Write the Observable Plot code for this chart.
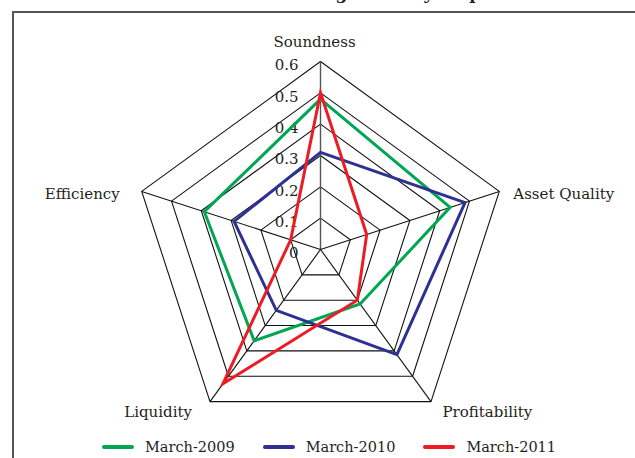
<!DOCTYPE html>
<html>
<head>
<meta charset="utf-8">
<script src="https://cdn.jsdelivr.net/npm/d3@7"></script>
<script src="https://cdn.jsdelivr.net/npm/@observablehq/plot@0.6"></script>
<style>
  html, body { margin: 0; padding: 0; background: #fff; }
  body { width: 635px; height: 458px; overflow: hidden; position: relative; font-family: "DejaVu Serif", serif; color: #231f20; }
  #title { position: absolute; top: -15px; left: 0; width: 635px; text-align: center; font: bold 17px/17px "DejaVu Serif", serif; color: #231f20; }
  #frame { position: absolute; left: 12px; top: 11px; width: 800px; height: 800px; border: 2px solid #555; box-sizing: border-box; }
  #chart { position: absolute; left: 0; top: 20px; }
  #legend { position: absolute; left: 102px; top: 437px; height: 20px; display: flex; align-items: center; font-size: 14.5px; }
  .item { display: flex; align-items: center; margin-right: 28px; }
  .sw { width: 32px; height: 4px; border-radius: 2px; margin-right: 11px; }
</style>
</head>
<body>
<div id="title">Chart 2.10: Banking Stability Map</div>
<div id="frame"></div>
<div id="chart"></div>
<div id="legend"></div>
<script>
// ---- data ----
const axes = ["Soundness", "Asset Quality", "Profitability", "Liquidity", "Efficiency"];
const ticks = [0, 0.1, 0.2, 0.3, 0.4, 0.5, 0.6];
const tickLabels = ["0", "0.1", "0.2", "0.3", "0.4", "0.5", "0.6"];
const seriesNames = ["March-2009", "March-2010", "March-2011"];
const march2009 = [0.48, 0.435, 0.215, 0.36, 0.39];
const march2010 = [0.31, 0.485, 0.415, 0.24, 0.29];
const march2011 = [0.50, 0.155, 0.20, 0.53, 0.10];
const seriesColors = ["#00a651", "#2e3192", "#ed1c24"];

// ---- layout ----
const W = 635, H = 400;
const cx = 320, cy = 229;          // centre of radar in SVG px
const rMax = 0.6, rPx = 188;
const k = rPx / rMax;
const ang = i => (i * 2 * Math.PI) / axes.length;
const px = (i, r) => r * Math.sin(ang(i));
const py = (i, r) => r * Math.cos(ang(i));

const gridPts = [];
ticks.filter(t => t > 0).forEach(t => {
  for (let i = 0; i <= axes.length; i++) {
    const j = i % axes.length;
    gridPts.push({t, x: px(j, t), y: py(j, t)});
  }
});
const spokes = axes.map((a, i) => ({a, i, x2: px(i, rMax), y2: py(i, rMax)}));

const allSeries = [march2009, march2010, march2011];
const seriesPts = [];
allSeries.forEach((vals, s) => {
  vals.forEach((v, i) => seriesPts.push({series: seriesNames[s], x: px(i, v), y: py(i, v)}));
});

const labelLayout = {
  "Soundness":     {anchor: "middle", dx: -6,  dy: -19.6},
  "Asset Quality": {anchor: "start",  dx: 14,  dy: 2.4},
  "Profitability": {anchor: "start",  dx: 11.5, dy: 10.4},
  "Liquidity":     {anchor: "end",    dx: -18, dy: 10.4},
  "Efficiency":    {anchor: "end",    dx: -22, dy: 2.4}
};

const labelMarks = axes.map((a, i) => Plot.text([a], {
  x: () => px(i, rMax), y: () => py(i, rMax), text: d => d,
  textAnchor: labelLayout[a].anchor, dx: labelLayout[a].dx, dy: labelLayout[a].dy,
  fill: "#231f20"
}));

const chart = Plot.plot({
  width: W, height: H, margin: 0,
  style: {fontFamily: "DejaVu Serif", fontSize: "15px", background: "transparent", overflow: "visible"},
  x: {domain: [-cx / k, (W - cx) / k], range: [0, W], axis: null},
  y: {domain: [-(H - cy) / k, cy / k], range: [H, 0], axis: null},
  color: {domain: seriesNames, range: seriesColors},
  marks: [
    Plot.line(gridPts, {x: "x", y: "y", z: "t", stroke: "#111", strokeWidth: 1.1}),
    Plot.link(spokes, {x1: () => 0, y1: () => 0, x2: "x2", y2: "y2", stroke: d => d.i === 0 ? "#555" : "#111", strokeWidth: d => d.i === 0 ? 1.4 : 1.1}),
    Plot.text(ticks, {x: () => 0, y: d => d, text: (d, i) => tickLabels[i], textAnchor: "end", dx: -22, dy: 4, fill: "#231f20"}),
    Plot.line(seriesPts, {x: "x", y: "y", z: "series", stroke: "series", strokeWidth: 3, curve: "linear-closed", strokeLinejoin: "miter", strokeMiterlimit: 10}),
    ...labelMarks
  ]
});
document.getElementById("chart").appendChild(chart);

const legend = document.getElementById("legend");
seriesNames.forEach((n, i) => {
  const it = document.createElement("div");
  it.className = "item";
  const sw = document.createElement("div");
  sw.className = "sw";
  sw.style.background = seriesColors[i];
  const tx = document.createElement("span");
  tx.textContent = n;
  it.appendChild(sw); it.appendChild(tx);
  legend.appendChild(it);
});
</script>
</body>
</html>
